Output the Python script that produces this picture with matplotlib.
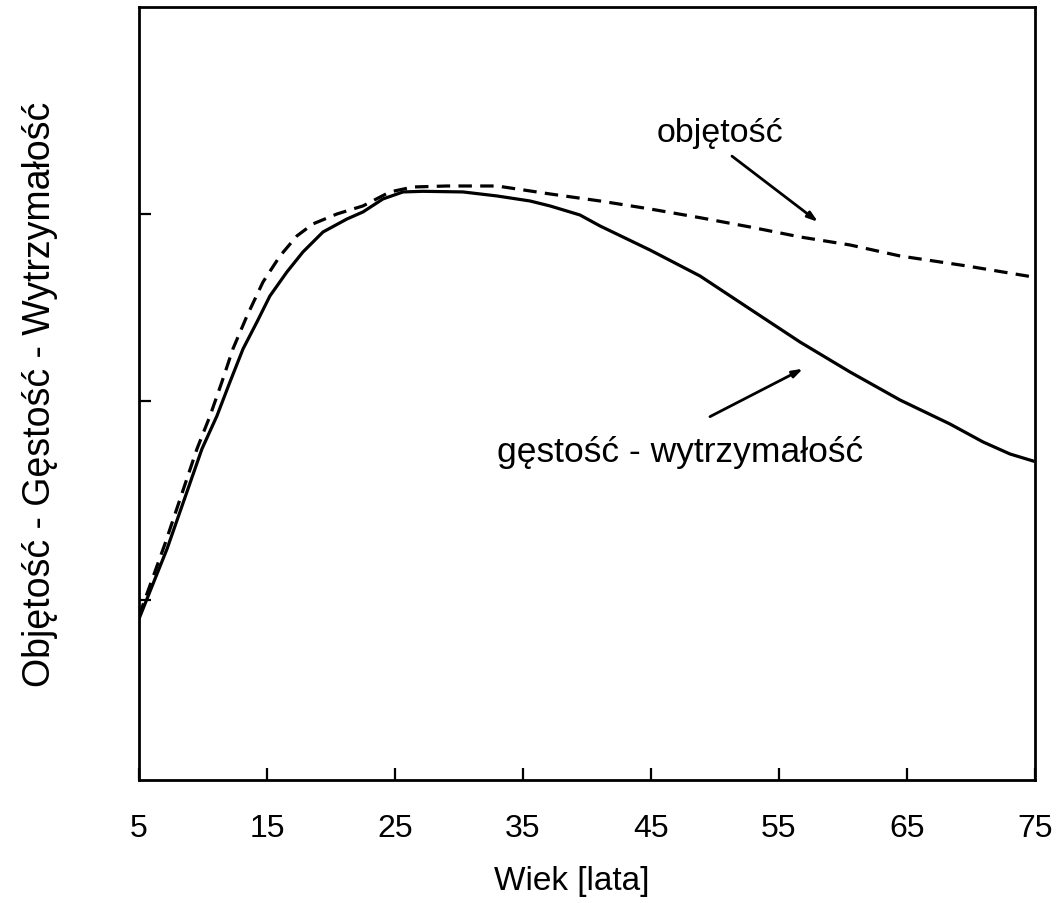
import matplotlib
matplotlib.use("Agg")
import matplotlib.pyplot as plt

# Data (x = age in years, y = relative level 0..100)
age_density = [5.00, 7.19, 9.92, 11.09, 12.11, 13.13, 14.22, 15.23, 16.56, 17.81, 19.38, 21.25,
               22.50, 24.06, 25.63, 27.19, 30.31, 32.97, 35.55, 37.11, 39.45, 41.02, 44.92,
               48.83, 52.73, 56.64, 60.55, 64.45, 68.36, 70.94, 73.05, 74.84]
density = [20.83, 29.88, 42.82, 47.09, 51.49, 55.76, 59.25, 62.61, 65.72, 68.30, 70.89, 72.57,
           73.48, 75.16, 76.07, 76.15, 76.07, 75.55, 74.90, 74.26, 73.09, 71.67, 68.56,
           65.20, 60.93, 56.66, 52.78, 49.16, 46.05, 43.73, 42.17, 41.27]

age_volume = [5.00, 7.03, 9.53, 10.55, 11.48, 12.34, 13.44, 14.69, 16.02, 17.34, 18.59, 20.47,
              22.50, 24.61, 26.41, 29.06, 32.97, 37.11, 41.02, 44.92, 48.83, 52.73, 56.64,
              60.55, 64.45, 69.69, 74.84]
volume = [21.22, 30.53, 42.82, 47.09, 51.49, 55.76, 60.03, 64.42, 67.79, 70.38, 71.93, 73.22,
          74.26, 76.07, 76.71, 76.84, 76.84, 75.81, 74.90, 73.87, 72.74, 71.54, 70.25,
          69.21, 67.79, 66.49, 65.07]

x_ticks = [5, 15, 25, 35, 45, 55, 65, 75]
x_tick_labels = ["5", "15", "25", "35", "45", "55", "65", "75"]
y_ticks = [23.3, 49.0, 73.2]

plt.rcParams['font.family'] = ['Liberation Sans', 'DejaVu Sans']

fig = plt.figure(figsize=(10.64, 9.04), dpi=100)
ax = fig.add_axes([0.1306, 0.1361, 0.8421, 0.8551])

ax.plot(age_density, density, color='black', lw=2.3, solid_joinstyle='round')
ax.plot(age_volume, volume, color='black', lw=2.3, linestyle=(0, (4.2, 2.6)))

ax.set_xlim(5, 75)
ax.set_ylim(0, 100)
ax.set_xticks(x_ticks)
ax.set_xticklabels(x_tick_labels)
ax.set_yticks(y_ticks)
ax.set_yticklabels([])

ax.tick_params(axis='x', direction='in', length=8.5, width=1.6, labelsize=23, pad=24)
ax.tick_params(axis='y', direction='in', length=8.5, width=1.6)
for s in ax.spines.values():
    s.set_linewidth(2.0)

ax.set_xlabel("Wiek [lata]", fontsize=24)
ax.xaxis.set_label_coords(0.483, -0.110)
ax.set_ylabel("Objętość - Gęstość - Wytrzymałość", fontsize=27)
ax.yaxis.set_label_coords(-0.090, 0.5)

ax.text(50.4, 82.7, "objętość", fontsize=24.5, ha='center', va='baseline')
ax.annotate("", xy=(58.05, 72.2), xytext=(51.33, 80.7),
            arrowprops=dict(arrowstyle='-|>,head_length=0.6,head_width=0.2', color='black', lw=2.0,
                            shrinkA=0, shrinkB=0))
ax.text(47.3, 41.3, "gęstość - wytrzymałość", fontsize=25.5, ha='center', va='baseline')
ax.annotate("", xy=(56.88, 53.2), xytext=(49.61, 47.0),
            arrowprops=dict(arrowstyle='-|>,head_length=0.6,head_width=0.2', color='black', lw=2.0,
                            shrinkA=0, shrinkB=0))

fig.savefig("out.png", dpi=100)
